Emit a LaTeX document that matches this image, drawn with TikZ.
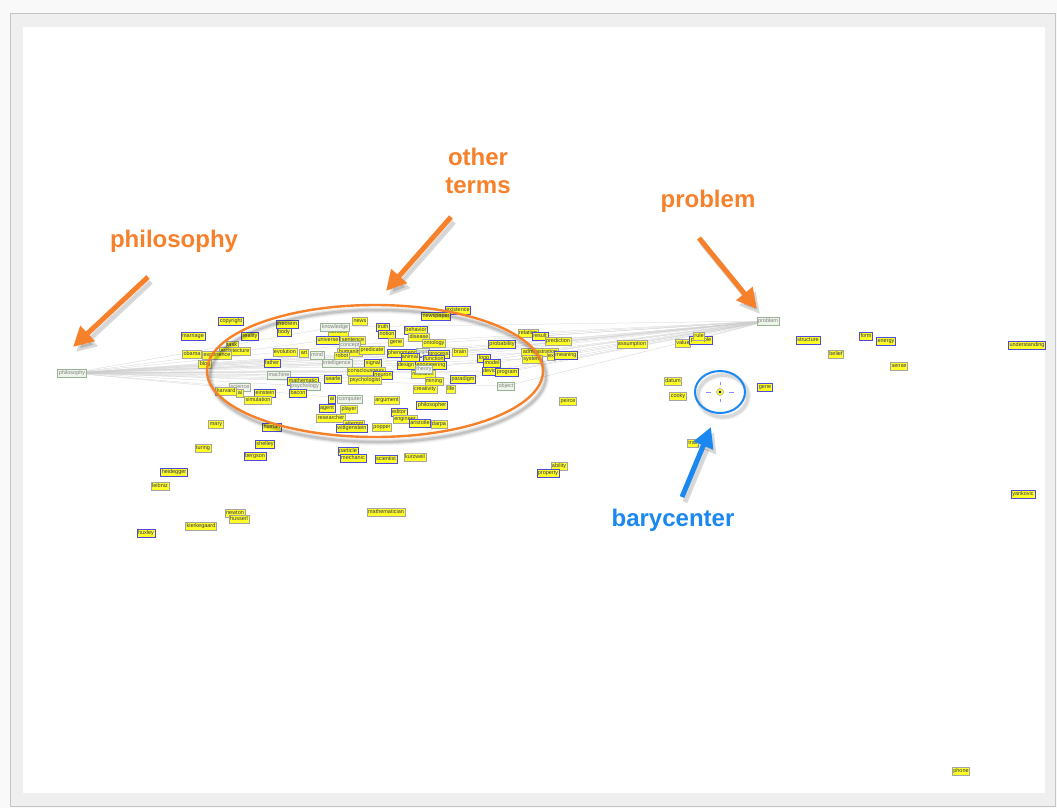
\documentclass[tikz,border=0pt]{standalone}
\usepackage{fontspec}
\setmainfont{Liberation Sans}
\usetikzlibrary{arrows.meta, backgrounds}
\definecolor{panelGray}{HTML}{EFEFEF}
\definecolor{panelLine}{HTML}{C4C4C4}
\definecolor{termYellow}{HTML}{FFFF26}
\definecolor{termBlue}{HTML}{4C4CD8}
\definecolor{termGray}{HTML}{A4A4A4}
\definecolor{termText}{HTML}{30305A}
\definecolor{seedFill}{HTML}{EEF4EA}
\definecolor{seedDraw}{HTML}{98B298}
\definecolor{noteOrange}{HTML}{F7802A}
\definecolor{noteBlue}{HTML}{1A88F0}
\tikzstyle{term} =[fill=termYellow, draw=termBlue, text=termText, font=\fontsize{5.5}{6}\selectfont, inner sep=1.1pt, text height=4.2pt, text depth=1.2pt, line width=0.6pt]
\tikzstyle{termg} =[term, draw=termGray]
\tikzstyle{seed} =[term, fill=seedFill, draw=seedDraw, text=gray]
\tikzstyle{link} =[draw=gray!40, line width=0.25pt]
\tikzstyle{callout} =[line width=5pt, -{Triangle[length=20pt,width=20pt]}]
\tikzstyle{calloutshadow} =[callout, draw=black, fill=black, opacity=0.15, transform canvas={shift={(3pt,-5pt)}}]
\tikzstyle{notetext} =[font=\bfseries\fontsize{24}{28}\selectfont, align=center]

\begin{document}
\begin{tikzpicture}[x=1pt, y=-1pt]
\useasboundingbox (0,0) rectangle (1057,808);

% panel
\begin{scope}[on background layer]
\fill[white!60!panelGray] (0,0) rectangle (1057,808);
\filldraw[fill=panelGray, draw=panelLine, line width=0.8pt] (10,13) rectangle (1055,806);
\fill[white] (23,27) rectangle (1045,793);
\end{scope}

% seed terms
\node (philosophy) [seed] at (72,373) {philosophy};
\node (problem) [seed] at (768,321) {problem};

% terms inside the cluster
\node (copyright) [term] at (231,321) {copyright};
\node (marriage) [term] at (193,336) {marriage};
\node (reality) [term] at (250,336) {reality};
\node (task) [termg] at (232,345) {task};
\node (architecture) [termg] at (235,351) {architecture};
\node (obama) [termg] at (192,354) {obama};
\node (experience) [termg] at (217,355) {experience};
\node (blog) [termg] at (205,364) {blog};
\node (theorem) [term] at (287,324) {theorem};
\node (body) [term] at (284,332) {body};
\node (context) [termg] at (338,332) {context};
\node (knowledge) [seed] at (335,327) {knowledge};
\node (news) [termg] at (360,321) {news};
\node (truth) [term] at (383,327) {truth};
\node (notion) [term] at (387,334) {notion};
\node (universe) [term] at (328,340) {universe};
\node (sentence) [termg] at (353,340) {sentence};
\node (concept) [seed] at (350,345) {concept};
\node (evolution) [termg] at (285,352) {evolution};
\node (art) [termg] at (304,353) {art};
\node (mind) [seed] at (317,355) {mind};
\node (humanity) [termg] at (350,352) {humanity};
\node (predicate) [termg] at (372,350) {predicate};
\node (robot) [termg] at (342,356) {robot};
\node (father) [term] at (272,363) {father};
\node (intelligence) [seed] at (337,363) {intelligence};
\node (signal) [term] at (373,363) {signal};
\node (consciousness) [termg] at (366,371) {consciousness};
\node (neuron) [term] at (383,375) {neuron};
\node (machine) [seed] at (279,375) {machine};
\node (mathematic) [term] at (303,381) {mathematic};
\node (psychology) [seed] at (305,386) {psychology};
\node (searle) [term] at (333,379) {searle};
\node (psychologist) [termg] at (365,380) {psychologist};
\node (science) [seed] at (240,387) {science};
\node (harvard) [termg] at (226,391) {harvard};
\node (ai) [termg] at (240,393) {ai};
\node (einstein) [term] at (265,393) {einstein};
\node (simulation) [termg] at (258,400) {simulation};
\node (bacon) [term] at (298,393) {bacon};
\node (ai2) [term] at (332,399) {ai};
\node (computer) [seed] at (350,399) {computer};
\node (argument) [termg] at (387,400) {argument};
\node (agent) [term] at (327,408) {agent};
\node (player) [termg] at (349,409) {player};
\node (researcher) [termg] at (331,418) {researcher};
\node (attempt) [termg] at (354,424) {attempt};
\node (wittgenstein) [term] at (352,428) {wittgenstein};
\node (popper) [termg] at (382,427) {popper};
\node (editor) [term] at (399,412) {editor};
\node (engineer) [termg] at (405,419) {engineer};
\node (aristotle) [term] at (420,423) {aristotle};
\node (darpa) [termg] at (439,424) {darpa};
\node (philosopher) [term] at (432,405) {philosopher};
\node (existence) [term] at (458,310) {existence};
\node (newspaper) [term] at (436,316) {newspaper};
\node (behavior) [term] at (416,330) {behavior};
\node (disease) [termg] at (419,337) {disease};
\node (gene) [termg] at (396,342) {gene};
\node (ontology) [termg] at (434,343) {ontology};
\node (phenomenon) [term] at (404,353) {phenomenon};
\node (logic) [seed] at (423,352) {logic};
\node (animal) [term] at (410,357) {animal};
\node (process) [term] at (439,354) {process};
\node (function) [term] at (434,359) {function};
\node (brain) [termg] at (460,352) {brain};
\node (design) [term] at (406,365) {design};
\node (engineering) [term] at (431,365) {engineering};
\node (research) [termg] at (423,374) {research};
\node (theory) [seed] at (424,369) {theory};
\node (mining) [termg] at (434,381) {mining};
\node (paradigm) [term] at (463,379) {paradigm};
\node (creativity) [termg] at (425,389) {creativity};
\node (life) [termg] at (451,389) {life};
\node (probability) [term] at (502,344) {probability};
\node (loop) [term] at (484,358) {loop};
\node (model) [term] at (492,363) {model};
\node (device) [term] at (491,371) {device};
\node (program) [term] at (507,372) {program};
\node (object) [seed] at (506,386) {object};

% terms near the cluster
\node (relation) [termg] at (528,333) {relation};
\node (result) [term] at (540,336) {result};
\node (prediction) [termg] at (558,341) {prediction};
\node (administration) [termg] at (540,352) {administration};
\node (ex) [termg] at (551,356) {ex};
\node (meaning) [term] at (566,355) {meaning};
\node (system) [termg] at (532,359) {system};
\node (assumption) [termg] at (632,344) {assumption};
\node (value) [termg] at (683,343) {value};
\node (principle) [term] at (701,340) {principle};
\node (rule) [termg] at (699,336) {rule};
\node (peirce) [termg] at (568,401) {peirce};

% terms far from the cluster
\node (mary) [termg] at (216,424) {mary};
\node (human) [term] at (272,427) {human};
\node (turing) [termg] at (203,448) {turing};
\node (shelley) [term] at (265,444) {shelley};
\node (bergson) [term] at (255,456) {bergson};
\node (particle) [term] at (348,451) {particle};
\node (mechanic) [term] at (353,458) {mechanic};
\node (scientist) [term] at (386,459) {scientist};
\node (kurzweil) [termg] at (415,457) {kurzweil};
\node (heidegger) [term] at (174,472) {heidegger};
\node (leibniz) [termg] at (160,486) {leibniz};
\node (ability) [termg] at (559,466) {ability};
\node (property) [term] at (548,473) {property};
\node (newton) [termg] at (235,513) {newton};
\node (husserl) [termg] at (239,519) {husserl};
\node (kierkegaard) [termg] at (201,526) {kierkegaard};
\node (huxley) [term] at (146,533) {huxley};
\node (mathematician) [termg] at (386,512) {mathematician};
\node (datum) [termg] at (673,381) {datum};
\node (cooky) [termg] at (678,396) {cooky};
\node (gene2) [term] at (765,387) {gene};
\node (trait) [termg] at (693,443) {trait};
\node (structure) [term] at (808,340) {structure};
\node (form) [term] at (866,336) {form};
\node (energy) [term] at (886,341) {energy};
\node (belief) [termg] at (836,354) {belief};
\node (sense) [termg] at (899,366) {sense};
\node (understanding) [term] at (1027,345) {understanding};
\node (yankovic) [term] at (1023,494) {yankovic};
\node (phone) [termg] at (961,771) {phone};

% links from the two seeds
\begin{scope}[on background layer]
\draw[link] (philosophy) edge (knowledge) edge (concept) edge (mind) edge (intelligence)
	edge (machine) edge (psychology) edge (science) edge (computer) edge (logic)
	edge (theory) edge (object) edge (consciousness) edge (searle) edge (signal)
	edge (robot) edge (universe) edge (function) edge (brain) edge (model)
	edge (probability) edge (system) edge (administration) edge (mathematic)
	edge (process) edge (paradigm) edge (device) edge (program) edge (neuron);
\draw[link] (problem) edge (value) edge (rule) edge (assumption) edge (prediction)
	edge (result) edge (relation) edge (meaning) edge (administration) edge (system)
	edge (probability) edge (model) edge (object) edge (logic) edge (theory)
	edge (concept) edge (knowledge) edge (intelligence) edge (brain) edge (process)
	edge (paradigm) edge (device) edge (program) edge (loop) edge (ontology)
	edge (function) edge (signal);
\end{scope}

% cluster outline
\foreach \w/\o in {7/0.05, 4.5/0.08, 2.5/0.12}
	\draw[black, opacity=\o, line width=\w pt] (378,376) ellipse [x radius=168, y radius=66];
\draw[noteOrange, line width=2.4pt] (375,371) ellipse [x radius=168, y radius=66];

% barycenter marker
\foreach \w/\o in {6/0.05, 3.5/0.1}
	\draw[black, opacity=\o, line width=\w pt] (723,396) ellipse [x radius=25, y radius=21];
\draw[noteBlue, line width=2pt] (720,392) ellipse [x radius=25, y radius=21];
\node (bary) [circle, fill=termYellow, draw=termGray, line width=0.5pt, inner sep=0pt, minimum size=7pt] at (720,392) {};
\fill[blue!80!black] (bary.center) circle [radius=1.3];
\draw[blue!45, line width=0.8pt]
	(bary.center) ++(-14,0) -- ++(5,0)
	(bary.center) ++(9,0) -- ++(5,0)
	(bary.center) ++(0,-10) -- ++(0,3)
	(bary.center) ++(0,7) -- ++(0,3);

% callouts
\coordinate (philoTail) at (148,277);
\coordinate (philoTip) at (73,347);
\coordinate (termsTail) at (451,217);
\coordinate (termsTip) at (386,291);
\coordinate (problemTail) at (699,238);
\coordinate (problemTip) at (757,309);
\coordinate (baryTail) at (682,497);
\coordinate (baryTip) at (711,427);

\draw[calloutshadow] (philoTail) -- (philoTip);
\draw[calloutshadow] (termsTail) -- (termsTip);
\draw[calloutshadow] (problemTail) -- (problemTip);
\draw[calloutshadow] (baryTail) -- (baryTip);
\draw[callout, noteOrange] (philoTail) -- (philoTip);
\draw[callout, noteOrange] (termsTail) -- (termsTip);
\draw[callout, noteOrange] (problemTail) -- (problemTip);
\draw[callout, noteBlue] (baryTail) -- (baryTip);

\node (philoNote) [notetext, text=noteOrange] at (174,241) {philosophy};
\node (termsNote) [notetext, text=noteOrange] at (478,171) {other\\terms};
\node (problemNote) [notetext, text=noteOrange] at (708,201) {problem};
\node (baryNote) [notetext, text=noteBlue] at (673,520) {barycenter};
\end{tikzpicture}
\end{document}
